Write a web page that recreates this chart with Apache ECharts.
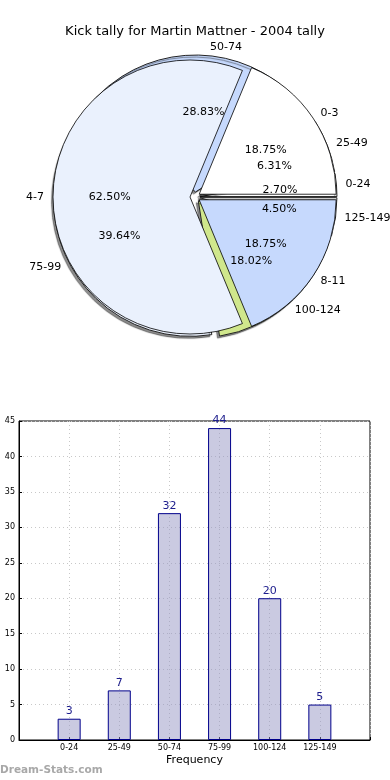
<!DOCTYPE html>
<html>
<head>
<meta charset="utf-8">
<script src="https://cdn.jsdelivr.net/npm/echarts@6/dist/echarts.min.js"></script>
<style>html,body{margin:0;padding:0;background:#fff;}#c{width:390px;height:780px;}</style>
</head>
<body>
<div id="c"></div>
<script>
const titleText = 'Kick tally for Martin Mattner - 2004 tally';
const tallyCats = ['0-3', '4-7', '8-11'];
const tallyCounts = [3, 10, 3];
const tallyColors = ['#ffffff', '#eaf1fd', '#c6d9fd'];
const binCats = ['0-24', '25-49', '50-74', '75-99', '100-124', '125-149'];
const binCounts = [3, 7, 32, 44, 20, 5];
const binColors = ['#ffffff', '#eaf1fd', '#c6d9fd', '#eaf1fd', '#d0e78c', '#ffffff'];
const yTicks = [0, 5, 10, 15, 20, 25, 30, 35, 40, 45];
const xAxisName = 'Frequency';
const watermark = 'Dream-Stats.com';

const FONT = 'DejaVu Sans';
const CX = 195, CY = 197, R = 137;

function pieData(cats, counts, colors, selected) {
  return cats.map((c, i) => ({ name: c, value: counts[i], selected: selected, itemStyle: { color: colors[i] } }));
}

function sectorSeries(cats, counts, colors, z, style) {
  return {
    type: 'pie', center: [CX, CY], radius: R, startAngle: 0, clockwise: false, z: z,
    selectedMode: 'multiple', selectedOffset: 5, avoidLabelOverlap: false, silent: true,
    itemStyle: style, label: { show: false }, labelLine: { show: false }, emphasis: { disabled: true },
    data: pieData(cats, counts, colors, true)
  };
}

function nameSeries(cats, counts) {
  return {
    type: 'pie', center: [CX, CY], radius: R, startAngle: 0, clockwise: false,
    silent: true, z: 10, avoidLabelOverlap: false, animation: false,
    itemStyle: { color: 'rgba(0,0,0,0)', borderWidth: 0 },
    label: { show: true, position: 'outside', fontFamily: FONT, fontSize: 11, color: '#000', distanceToLabelLine: 0, formatter: '{b}' },
    labelLine: { show: false, length: Math.round(R * 0.1), length2: 0 }, emphasis: { disabled: true },
    data: cats.map((c, i) => ({ name: c, value: counts[i] }))
  };
}

function pctSeries(cats, counts) {
  return {
    type: 'pie', center: [CX, CY], radius: R * 1.2, startAngle: 0, clockwise: false,
    silent: true, z: 10, avoidLabelOverlap: false, percentPrecision: 2, animation: false,
    itemStyle: { color: 'rgba(0,0,0,0)', borderWidth: 0 },
    label: { show: true, position: 'inside', formatter: p => p.percent.toFixed(2) + '%', fontFamily: FONT, fontSize: 11, color: '#000' },
    labelLine: { show: false }, emphasis: { disabled: true },
    data: cats.map((c, i) => ({ name: c, value: counts[i] }))
  };
}

const chart = echarts.init(document.getElementById('c'), null, { renderer: 'canvas' });
chart.setOption({
  animation: false,
  title: { text: titleText, left: 'center', top: 20, textStyle: { fontFamily: FONT, fontSize: 13, fontWeight: 'normal', color: '#000' } },
  graphic: [{ type: 'text', left: 0, top: 765, style: { text: watermark, fontFamily: FONT, fontSize: 10.5, fontWeight: 'bold', fill: '#a8a8a8' } }],
  grid: { left: 19, top: 421, width: 351, height: 319, show: true, borderColor: '#000', borderWidth: 1, backgroundColor: 'transparent' },
  xAxis: {
    type: 'value', min: -1, max: 6, interval: 1,
    name: xAxisName, nameLocation: 'middle', nameGap: 15,
    nameTextStyle: { fontFamily: FONT, fontSize: 11, color: '#000' },
    axisLine: { show: true, onZero: false, lineStyle: { color: '#000' } },
    axisTick: { show: true, inside: true, length: 3, lineStyle: { color: '#000' } },
    axisLabel: { fontFamily: FONT, fontSize: 8, color: '#000', margin: 4, formatter: v => (binCats[v] !== undefined ? binCats[v] : '') },
    splitLine: { show: true, lineStyle: { color: '#c8c8c8', type: [1, 3] } }
  },
  yAxis: {
    type: 'value', min: yTicks[0], max: yTicks[yTicks.length - 1], interval: 5,
    axisLine: { show: true, onZero: false, lineStyle: { color: '#000' } },
    axisTick: { show: true, inside: true, length: 3, lineStyle: { color: '#000' } },
    axisLabel: { fontFamily: FONT, fontSize: 8, color: '#000', margin: 4 },
    splitLine: { show: true, lineStyle: { color: '#c8c8c8', type: [1, 3] } }
  },
  series: [
    sectorSeries(binCats, binCounts, binColors, 1,
      { borderColor: '#222', borderWidth: 1, shadowColor: 'rgba(0,0,0,0.45)', shadowBlur: 1, shadowOffsetX: -2, shadowOffsetY: 2 }),
    sectorSeries(tallyCats, tallyCounts, tallyColors, 2, { borderColor: '#000', borderWidth: 0.8 }),
    nameSeries(binCats, binCounts),
    nameSeries(tallyCats, tallyCounts),
    pctSeries(binCats, binCounts),
    pctSeries(tallyCats, tallyCounts),
    {
      type: 'bar', barWidth: 23, silent: true,
      itemStyle: { color: 'rgba(150,150,196,0.5)', borderColor: '#00008b', borderWidth: 1 },
      label: { show: true, position: 'top', distance: 2, fontFamily: FONT, fontSize: 11, color: '#1c1c8c' },
      data: binCats.map((c, i) => [i, binCounts[i]])
    }
  ]
});
</script>
</body>
</html>
